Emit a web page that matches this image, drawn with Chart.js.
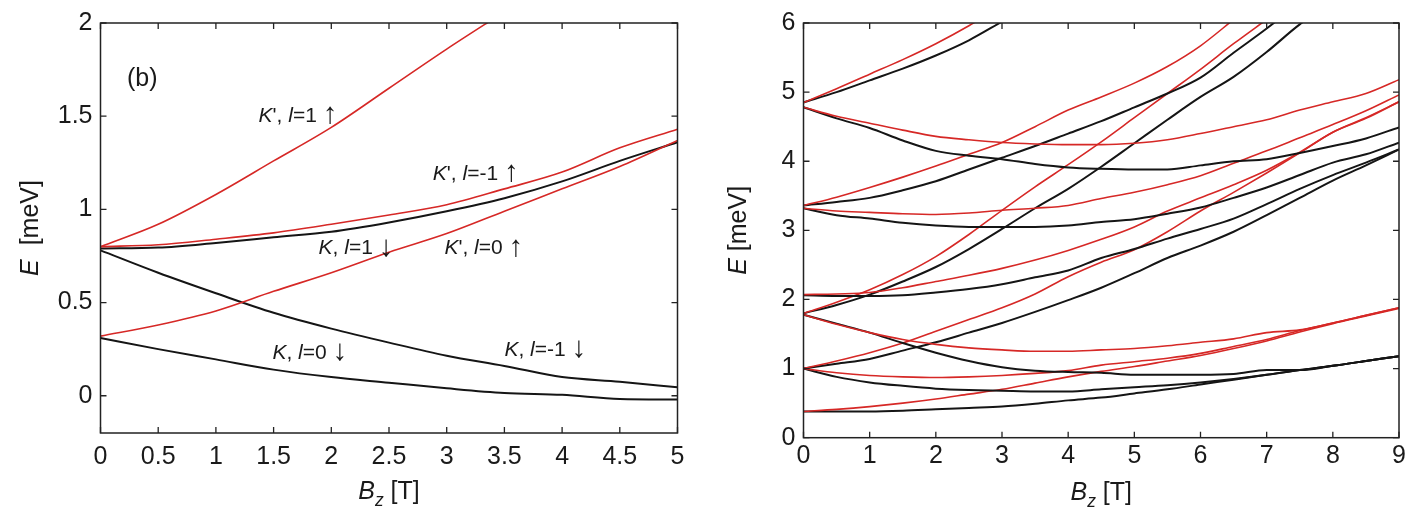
<!DOCTYPE html>
<html>
<head>
<meta charset="UTF-8">
<title>Energy levels vs Bz</title>
<script src="https://cdn.jsdelivr.net/npm/chart.js@4.4.1/dist/chart.umd.min.js"></script>
<style>
  body { margin: 0; background: #fff; }
  #wrap { position: relative; width: 1427px; height: 511px; }
  canvas { position: absolute; top: 0; }
</style>
</head>
<body>
<div id="wrap">
  <canvas id="left" width="710" height="511" style="left:0px"></canvas>
  <canvas id="right" width="717" height="511" style="left:710px"></canvas>
</div>
<script>
// ---- left panel (b), B_z in T, E in meV ----
const leftB = [0, 0.5, 1, 1.5, 2, 2.5, 3, 3.5, 4, 4.5, 5];
const kp_l1_up   = [0.80, 0.92, 1.08, 1.26, 1.44, 1.65, 1.86, 2.06];          // K', l=1 up (leaves top ~3.4 T)
const kp_lm1_up  = [0.80, 0.81, 0.84, 0.874, 0.92, 0.97, 1.025, 1.11, 1.20, 1.33, 1.43];
const k_l1_dn    = [0.79, 0.795, 0.82, 0.85, 0.88, 0.93, 0.99, 1.06, 1.15, 1.26, 1.36];
const kp_l0_up   = [0.32, 0.38, 0.455, 0.56, 0.66, 0.77, 0.87, 0.99, 1.11, 1.23, 1.37];
const k_lm1_dn   = [0.78, 0.66, 0.55, 0.445, 0.36, 0.285, 0.215, 0.16, 0.10, 0.075, 0.045];
const k_l0_dn    = [0.31, 0.25, 0.195, 0.14, 0.10, 0.07, 0.04, 0.015, 0.005, -0.017, -0.02];
const leftXTicks = [0, 0.5, 1, 1.5, 2, 2.5, 3, 3.5, 4, 4.5, 5];
const leftYTicks = [0, 0.5, 1, 1.5, 2];

// ---- right panel, B_z 0..9 T ----
const rightB = [0, 0.5, 1, 1.5, 2, 2.5, 3, 3.5, 4, 4.5, 5, 5.5, 6, 6.5, 7, 7.5, 8, 8.5, 9];
const r48up = [4.85, 5.05, 5.26, 5.47, 5.70, 5.96, 6.25];
const k48up = [4.85, 5.00, 5.17, 5.34, 5.53, 5.75, 6.02];
const r48dn = [4.78, 4.65, 4.55, 4.45, 4.36, 4.31, 4.27, 4.25, 4.24, 4.24, 4.26, 4.31, 4.40, 4.50, 4.60, 4.74, 4.86, 4.98, 5.18];
const k48dn = [4.78, 4.62, 4.48, 4.30, 4.15, 4.08, 4.03, 3.96, 3.91, 3.89, 3.88, 3.88, 3.94, 4.00, 4.03, 4.12, 4.22, 4.33, 4.49];
const r33up = [3.36, 3.48, 3.62, 3.77, 3.93, 4.10, 4.27, 4.50, 4.74, 4.93, 5.13, 5.37, 5.67, 6.05];
const k33up = [3.36, 3.41, 3.47, 3.58, 3.71, 3.88, 4.05, 4.22, 4.40, 4.58, 4.78, 4.98, 5.21, 5.57, 5.92, 6.30];
const r33dn = [3.32, 3.28, 3.26, 3.24, 3.23, 3.25, 3.29, 3.32, 3.36, 3.46, 3.55, 3.66, 3.79, 3.97, 4.15, 4.34, 4.53, 4.73, 4.96];
const k33dn = [3.32, 3.22, 3.17, 3.11, 3.07, 3.05, 3.05, 3.05, 3.07, 3.12, 3.16, 3.24, 3.33, 3.47, 3.62, 3.80, 3.98, 4.10, 4.27];
const r207  = [2.07, 2.08, 2.10, 2.17, 2.26, 2.35, 2.45, 2.57, 2.71, 2.87, 3.05, 3.28, 3.47, 3.66, 3.87, 4.13, 4.42, 4.62, 4.86];
const k207  = [2.06, 2.05, 2.05, 2.06, 2.10, 2.15, 2.22, 2.32, 2.42, 2.60, 2.73, 2.88, 3.02, 3.17, 3.38, 3.60, 3.80, 3.98, 4.17];
const r18up = [1.80, 1.96, 2.14, 2.36, 2.62, 2.94, 3.29, 3.63, 3.95, 4.28, 4.63, 4.98, 5.33, 5.70, 6.05];
const k18up = [1.80, 1.92, 2.07, 2.26, 2.47, 2.73, 3.02, 3.32, 3.60, 3.92, 4.26, 4.60, 4.93, 5.22, 5.58, 5.98, 6.30];
const r18dn = [1.78, 1.64, 1.52, 1.42, 1.35, 1.30, 1.27, 1.25, 1.25, 1.27, 1.29, 1.33, 1.38, 1.43, 1.52, 1.56, 1.66, 1.77, 1.88];
const k18dn = [1.78, 1.65, 1.52, 1.37, 1.23, 1.11, 1.02, 0.97, 0.95, 0.94, 0.91, 0.91, 0.91, 0.92, 0.98, 0.98, 1.04, 1.11, 1.18];
const r10up = [1.00, 1.11, 1.23, 1.37, 1.54, 1.71, 1.88, 2.08, 2.33, 2.54, 2.72, 2.98, 3.28, 3.55, 3.83, 4.12, 4.42, 4.63, 4.86];
const k10up = [1.00, 1.07, 1.14, 1.26, 1.38, 1.52, 1.66, 1.82, 1.99, 2.17, 2.38, 2.60, 2.78, 2.98, 3.22, 3.47, 3.72, 3.94, 4.17];
const r10dn = [1.00, 0.94, 0.90, 0.88, 0.87, 0.88, 0.90, 0.93, 0.97, 1.05, 1.10, 1.15, 1.22, 1.32, 1.42, 1.55, 1.66, 1.77, 1.88];
const k10dn = [1.00, 0.88, 0.80, 0.75, 0.71, 0.69, 0.68, 0.67, 0.67, 0.70, 0.73, 0.76, 0.80, 0.85, 0.91, 0.98, 1.04, 1.11, 1.18];
const r038  = [0.38, 0.41, 0.45, 0.50, 0.56, 0.63, 0.70, 0.79, 0.88, 0.96, 1.03, 1.11, 1.19, 1.29, 1.40, 1.53, 1.65, 1.76, 1.87];
const k038  = [0.38, 0.38, 0.38, 0.39, 0.41, 0.43, 0.45, 0.49, 0.54, 0.58, 0.64, 0.70, 0.77, 0.84, 0.91, 0.98, 1.04, 1.11, 1.18];
const rightXTicks = [0, 1, 2, 3, 4, 5, 6, 7, 8, 9];
const rightYTicks = [0, 1, 2, 3, 4, 5, 6];

// labels drawn inside panel (b): [text, italic, kind]  kind 'a' = arrow
const leftNotes = [
  { x: 0.23, y: 1.70, size: 25, parts: [['(b)', 0]] },
  { x: 1.37, y: 1.50, parts: [['K', 1], ["', ", 0], ['l', 1], ['=1 ', 0], ['\u2191', 0, 'a']] },
  { x: 2.88, y: 1.19, parts: [['K', 1], ["', ", 0], ['l', 1], ['=-1 ', 0], ['\u2191', 0, 'a']] },
  { x: 1.89, y: 0.79, parts: [['K', 1], [', ', 0], ['l', 1], ['=1 ', 0], ['\u2193', 0, 'a']] },
  { x: 2.98, y: 0.79, parts: [['K', 1], ["', ", 0], ['l', 1], ['=0 ', 0], ['\u2191', 0, 'a']] },
  { x: 1.49, y: 0.23, parts: [['K', 1], [', ', 0], ['l', 1], ['=0 ', 0], ['\u2193', 0, 'a']] },
  { x: 3.50, y: 0.245, parts: [['K', 1], [', ', 0], ['l', 1], ['=-1 ', 0], ['\u2193', 0, 'a']] }
];

const RED = 'rgb(214,40,38)';
const BLACK = '#151515';
const FONT = '"Liberation Sans", Arial, sans-serif';

function pts(xs, ys) {
  return ys.map((y, i) => ({ x: xs[i], y: y }));
}
function line(xs, ys, color) {
  return {
    data: pts(xs, ys),
    borderColor: color,
    borderWidth: color === RED ? 1.6 : 2,
    pointRadius: 0,
    cubicInterpolationMode: 'monotone',
    fill: false
  };
}

function partFont(p, size) {
  if (p[2] === 'a') return (size * 1.4) + 'px ' + FONT;
  if (p[2] === 's') return 'italic ' + (size * 0.7) + 'px ' + FONT;
  return (p[1] ? 'italic ' : '') + size + 'px ' + FONT;
}
function drawParts(ctx, parts, x, y, size, align) {
  let w = 0;
  parts.forEach(p => { ctx.font = partFont(p, size); w += ctx.measureText(p[0]).width; });
  let cx = align === 'center' ? x - w / 2 : x;
  parts.forEach(p => {
    ctx.font = partFont(p, size);
    let dy = 0;
    if (p[2] === 's') dy = size * 0.28;
    if (p[2] === 'a') dy = -size * 0.05;
    ctx.fillText(p[0], cx, y + dy);
    cx += ctx.measureText(p[0]).width;
  });
}

// frame, inward ticks on all four sides, axis titles and in-plot labels
const framePlugin = {
  id: 'frame',
  afterDraw(chart, args, opts) {
    const ctx = chart.ctx;
    const a = chart.chartArea;
    const xs = chart.scales.x, ys = chart.scales.y;
    ctx.save();
    ctx.strokeStyle = '#222';
    ctx.lineWidth = 1.5;
    ctx.strokeRect(a.left, a.top, a.right - a.left, a.bottom - a.top);
    ctx.lineWidth = 1.3;
    ctx.beginPath();
    xs.ticks.forEach(t => {
      const px = xs.getPixelForValue(t.value);
      ctx.moveTo(px, a.bottom); ctx.lineTo(px, a.bottom - 6);
      ctx.moveTo(px, a.top); ctx.lineTo(px, a.top + 6);
    });
    ys.ticks.forEach(t => {
      const py = ys.getPixelForValue(t.value);
      ctx.moveTo(a.left, py); ctx.lineTo(a.left + 6, py);
      ctx.moveTo(a.right, py); ctx.lineTo(a.right - 6, py);
    });
    ctx.stroke();

    ctx.fillStyle = '#1a1a1a';
    ctx.textBaseline = 'alphabetic';
    drawParts(ctx, [['B', 1], ['z', 1, 's'], [' [T]', 0]], (a.left + a.right) / 2, opts.xTitleY, 25, 'center');

    ctx.save();
    ctx.translate(opts.yTitleX, (a.top + a.bottom) / 2);
    ctx.rotate(-Math.PI / 2);
    ctx.textBaseline = 'middle';
    drawParts(ctx, opts.yTitle, 0, 0, 25, 'center');
    ctx.restore();

    ctx.textBaseline = 'middle';
    (opts.notes || []).forEach(n => {
      drawParts(ctx, n.parts, xs.getPixelForValue(n.x), ys.getPixelForValue(n.y), n.size || 21, 'left');
    });
    ctx.restore();
  }
};

function makeOptions(cfg) {
  return {
    responsive: false,
    animation: false,
    events: [],
    layout: { padding: { top: 21, right: cfg.padRight, left: 0, bottom: 0 } },
    plugins: {
      legend: { display: false },
      tooltip: { enabled: false },
      frame: { xTitleY: cfg.xTitleY, yTitleX: cfg.yTitleX, yTitle: cfg.yTitle, notes: cfg.notes }
    },
    scales: {
      x: {
        type: 'linear', min: cfg.xMin, max: cfg.xMax,
        afterBuildTicks: s => { s.ticks = cfg.xTicks.map(v => ({ value: v })); },
        afterFit: s => { s.height = cfg.xAxisH; },
        grid: { drawOnChartArea: false, drawTicks: false },
        border: { display: false },
        ticks: { color: '#1a1a1a', padding: cfg.xPad, maxRotation: 0, autoSkip: false,
                 font: { family: FONT, size: 25 }, callback: v => String(v) }
      },
      y: {
        type: 'linear', min: cfg.yMin, max: cfg.yMax,
        afterBuildTicks: s => { s.ticks = cfg.yTicks.map(v => ({ value: v })); },
        afterFit: s => { s.width = cfg.yAxisW; },
        grid: { drawOnChartArea: false, drawTicks: false },
        border: { display: false },
        ticks: { color: '#1a1a1a', padding: 8, autoSkip: false,
                 font: { family: FONT, size: 25 }, callback: v => String(v) }
      }
    }
  };
}

new Chart(document.getElementById('left'), {
  type: 'line',
  data: {
    datasets: [
      line(leftB, kp_l1_up, RED),
      line(leftB, kp_lm1_up, RED),
      line(leftB, kp_l0_up, RED),
      line(leftB, k_l1_dn, BLACK),
      line(leftB, k_lm1_dn, BLACK),
      line(leftB, k_l0_dn, BLACK)
    ]
  },
  options: makeOptions({
    xMin: 0, xMax: 5, yMin: -0.2, yMax: 2,
    xTicks: leftXTicks, yTicks: leftYTicks,
    padRight: 32.5, yAxisW: 100.5, xAxisH: 78, xPad: 9,
    xTitleY: 499, yTitleX: 31,
    yTitle: [['E', 1], ['  [meV]', 0]],
    notes: leftNotes
  }),
  plugins: [framePlugin]
});

new Chart(document.getElementById('right'), {
  type: 'line',
  data: {
    datasets: [
      line(rightB, r48up, RED), line(rightB, k48up, BLACK),
      line(rightB, r48dn, RED), line(rightB, k48dn, BLACK),
      line(rightB, r33up, RED), line(rightB, k33up, BLACK),
      line(rightB, r33dn, RED), line(rightB, k33dn, BLACK),
      line(rightB, r207, RED), line(rightB, k207, BLACK),
      line(rightB, r18up, RED), line(rightB, k18up, BLACK),
      line(rightB, r18dn, RED), line(rightB, k18dn, BLACK),
      line(rightB, r10up, RED), line(rightB, k10up, BLACK),
      line(rightB, r10dn, RED), line(rightB, k10dn, BLACK),
      line(rightB, r038, RED), line(rightB, k038, BLACK)
    ]
  },
  options: makeOptions({
    xMin: 0, xMax: 9, yMin: 0, yMax: 6,
    xTicks: rightXTicks, yTicks: rightYTicks,
    padRight: 28, yAxisW: 93.5, xAxisH: 73.3, xPad: 3,
    xTitleY: 500, yTitleX: 29,
    yTitle: [['E', 1], [' [meV]', 0]]
  }),
  plugins: [framePlugin]
});
</script>
</body>
</html>
